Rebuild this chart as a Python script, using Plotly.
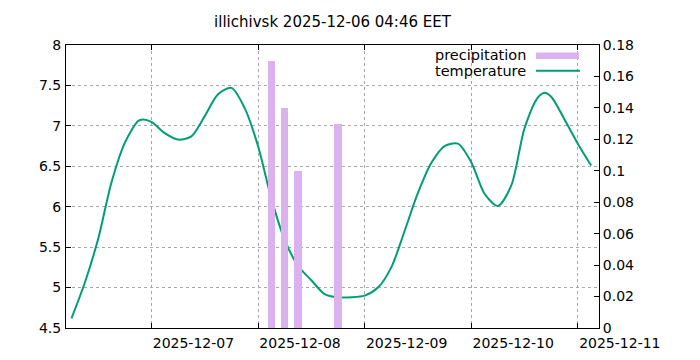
import plotly.graph_objects as go

# ---------------- data ----------------
temp_times = [
    "2025-12-06 06:00", "2025-12-06 09:00", "2025-12-06 12:00", "2025-12-06 15:00",
    "2025-12-06 18:00", "2025-12-06 21:00", "2025-12-06 22:00", "2025-12-07 00:00",
    "2025-12-07 03:00", "2025-12-07 06:00", "2025-12-07 09:00", "2025-12-07 12:00",
    "2025-12-07 15:00", "2025-12-07 18:00", "2025-12-07 21:00", "2025-12-08 00:00",
    "2025-12-08 03:00", "2025-12-08 06:00", "2025-12-08 09:00", "2025-12-08 12:00",
    "2025-12-08 15:00", "2025-12-08 18:00", "2025-12-08 21:00", "2025-12-09 00:00",
    "2025-12-09 03:00", "2025-12-09 06:00", "2025-12-09 09:00", "2025-12-09 12:00",
    "2025-12-09 15:00", "2025-12-09 18:00", "2025-12-09 21:00", "2025-12-10 00:00",
    "2025-12-10 03:00", "2025-12-10 06:00", "2025-12-10 09:00", "2025-12-10 12:00",
    "2025-12-10 15:00", "2025-12-10 16:30", "2025-12-10 18:00", "2025-12-10 21:00",
    "2025-12-11 00:00", "2025-12-11 03:00",
]
temperature = [
    4.62, 5.06, 5.60, 6.30,
    6.79, 7.06, 7.08, 7.05,
    6.91, 6.83, 6.87, 7.12,
    7.39, 7.47, 7.22, 6.75,
    6.10, 5.59, 5.27, 5.09,
    4.92, 4.88, 4.88, 4.90,
    5.00, 5.25, 5.70, 6.17,
    6.54, 6.75, 6.78, 6.55,
    6.16, 6.01, 6.26, 6.97,
    7.35, 7.41, 7.36, 7.08,
    6.78, 6.51,
]

precip_times = ["2025-12-08 03:00", "2025-12-08 06:00", "2025-12-08 09:00", "2025-12-08 18:00"]
precipitation = [0.17, 0.14, 0.10, 0.13]

left_ticks = [4.5, 5, 5.5, 6, 6.5, 7, 7.5, 8]
left_labels = ["4.5", "5", "5.5", "6", "6.5", "7", "7.5", "8"]
right_ticks = [0, 0.02, 0.04, 0.06, 0.08, 0.1, 0.12, 0.14, 0.16, 0.18]
right_labels = ["0", "0.02", "0.04", "0.06", "0.08", "0.1", "0.12", "0.14", "0.16", "0.18"]

title_text = "illichivsk 2025-12-06 04:46 EET"

# ---------------- style ----------------
GREEN = "#009e73"
PURPLE = "#dcb2ee"
GRID = "#a8a8a8"
FONT = "DejaVu Sans"

# page body has an 8px default margin; compensate so the plot lands where intended
OFF = 8
W, H = 700 - 2 * OFF, 360 - 2 * OFF
PL, PR, PT, PB = 66, 599, 45, 328  # plot area in window pixels

fig = go.Figure()

fig.add_trace(go.Bar(
    x=precip_times, y=precipitation, yaxis="y2",
    width=6.1e6, marker=dict(color=PURPLE, line=dict(width=0)),
    name="precipitation", showlegend=False,
))
fig.add_trace(go.Scatter(
    x=temp_times, y=temperature, mode="lines",
    line=dict(color=GREEN, width=2, shape="spline", smoothing=0.8),
    name="temperature", showlegend=False,
))

fig.update_layout(
    width=W, height=H,
    margin=dict(l=PL - OFF, r=W + OFF - PR, t=PT - OFF, b=H + OFF - PB, autoexpand=False),
    paper_bgcolor="white", plot_bgcolor="white",
    font=dict(family=FONT, size=14, color="black"),
    title=dict(text=title_text, x=((PL + PR) / 2 - OFF) / W, xanchor="center",
               y=1 - (22 - OFF) / H, yanchor="middle", font=dict(family=FONT, size=15)),
    showlegend=False,
    xaxis=dict(
        type="date", automargin=False,
        range=["2025-12-06 04:46", "2025-12-11 04:46"],
        tick0="2025-12-07", dtick=86400000, tickformat="%Y-%m-%d",
        ticklabelshift=42, ticklabelstandoff=2,
        showgrid=True, gridcolor=GRID, griddash="dot", gridwidth=1,
        ticks="inside", ticklen=5, tickcolor="black",
        showline=True, linecolor="black", linewidth=1, mirror="ticks",
        zeroline=False,
    ),
    yaxis=dict(
        range=[4.5, 8], tickvals=left_ticks, ticktext=left_labels, automargin=False,
        showgrid=True, gridcolor=GRID, griddash="dot", gridwidth=1,
        ticks="inside", ticklen=5, tickcolor="black", ticklabelstandoff=1,
        showline=True, linecolor="black", linewidth=1, mirror=False,
        zeroline=False,
    ),
    yaxis2=dict(
        range=[0, 0.18], tickvals=right_ticks, ticktext=right_labels, automargin=False,
        overlaying="y", side="right", showgrid=False,
        ticks="inside", ticklen=5, tickcolor="black",
        showline=True, linecolor="black", linewidth=1,
        zeroline=False,
    ),
    bargap=0,
)

# gnuplot-style key (top right inside): text right-aligned, sample to the right
def px(xp):
    return (xp - PL) / (PR - PL)

def py(yp):
    return (PB - yp) / (PB - PT)

fig.add_annotation(text="precipitation", xref="paper", yref="paper",
                   x=px(528), y=py(54.5), xanchor="right", yanchor="middle",
                   showarrow=False, font=dict(family=FONT, size=14.5))
fig.add_annotation(text="temperature", xref="paper", yref="paper",
                   x=px(528), y=py(71), xanchor="right", yanchor="middle",
                   showarrow=False, font=dict(family=FONT, size=14.5))
fig.add_shape(type="rect", xref="paper", yref="paper",
              x0=px(536), x1=px(579), y0=py(59), y1=py(52.5),
              fillcolor=PURPLE, line=dict(width=0))
fig.add_shape(type="line", xref="paper", yref="paper",
              x0=px(536), x1=px(580), y0=py(70.7), y1=py(70.7),
              line=dict(color=GREEN, width=2))

fig.write_html("out.html")
